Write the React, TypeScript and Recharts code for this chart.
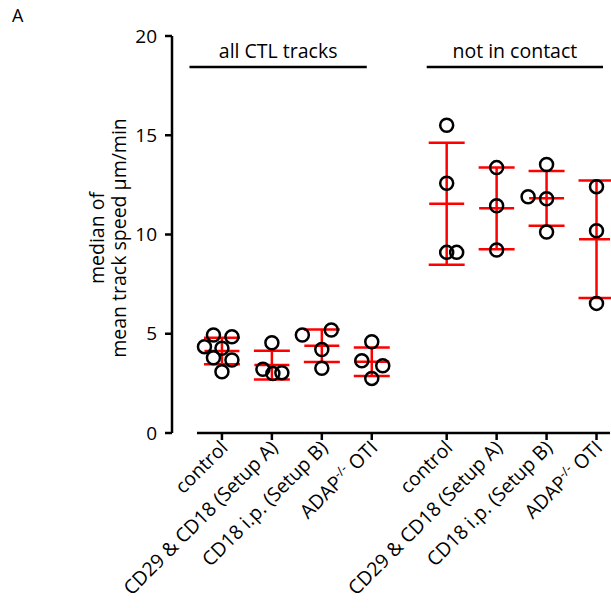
import React from "react";
import { ScatterChart, Scatter, XAxis, YAxis, ErrorBar, ReferenceLine } from "recharts";

// category x positions (gap of 1.5 between the two groups)
const catX = [0, 1, 2, 3, 4.5, 5.5, 6.5, 7.5];
const catLabels = [
  "control", "CD29 & CD18 (Setup A)", "CD18 i.p. (Setup B)", "ADAP",
  "control", "CD29 & CD18 (Setup A)", "CD18 i.p. (Setup B)", "ADAP",
];

// individual points per category: [x jitter, value]
const pts0 = [[-0.35, 4.35], [-0.17, 4.94], [0.2, 4.85], [0, 4.27], [-0.17, 3.79], [0.2, 3.68], [0, 3.09]];
const pts1 = [[0, 4.55], [-0.18, 3.21], [0.02, 3.0], [0.2, 3.04]];
const pts2 = [[-0.39, 4.94], [0.19, 5.19], [0, 4.21], [0, 3.26]];
const pts3 = [[0, 4.6], [-0.2, 3.64], [0.22, 3.39], [0, 2.75]];
const pts4 = [[0, 15.5], [0, 12.58], [0, 9.1], [0.2, 9.1]];
const pts5 = [[0, 13.37], [0, 11.45], [0, 9.22]];
const pts6 = [[0, 13.53], [-0.37, 11.9], [0, 11.8], [0, 10.13]];
const pts7 = [[0, 12.41], [0, 10.19], [0, 6.53]];
const allPts = [pts0, pts1, pts2, pts3, pts4, pts5, pts6, pts7];

const means = [4.13, 3.42, 4.4, 3.59, 11.55, 11.32, 11.82, 9.76];
const sds = [0.67, 0.72, 0.82, 0.72, 3.07, 2.06, 1.38, 2.96];

const yTicks = [0, 5, 10, 15, 20];

const pointData = allPts.flatMap((p, i) => p.map(([dx, v]) => ({ x: catX[i] + dx, y: v })));
const meanData = catX.map((x, i) => ({ x, y: means[i], sd: sds[i] }));

const FONT = "'Open Sans', sans-serif";

const MeanLine = (props: any) => {
  const { cx, cy } = props;
  return <line x1={cx - 17.5} x2={cx + 17.5} y1={cy} y2={cy} stroke="#ff0000" strokeWidth={2.5} />;
};

const Circle = (props: any) => {
  const { cx, cy } = props;
  return <circle cx={cx} cy={cy} r={6.5} fill="none" stroke="#000" strokeWidth={2.5} />;
};

const XTick = (props: any) => {
  const { x, y, payload } = props;
  const i = catX.indexOf(payload.value);
  const lbl = catLabels[i];
  return (
    <g transform={`translate(${x + 7},${y + 7})`}>
      <text textAnchor="end" transform="rotate(-45)" fontSize={19.5} fontFamily={FONT} fill="#000">
        {lbl === "ADAP" ? (
          <>
            ADAP<tspan fontSize={13} dy={-7}>-/-</tspan>
            <tspan dy={7}> OTI</tspan>
          </>
        ) : lbl}
      </text>
    </g>
  );
};

export default function App() {
  return (
    <div style={{ position: "absolute", left: 0, top: 0, width: 611, height: 608, fontFamily: FONT }}>
      <svg width={611} height={608} style={{ position: "absolute", left: 0, top: 0 }}>
        <text x={12} y={22} fontSize={18} fontFamily={FONT} fill="#000">A</text>
        <text transform="translate(104,238) rotate(-90)" textAnchor="middle" fontSize={19.5} fontFamily={FONT} fill="#000">median of</text>
        <text transform="translate(126,238) rotate(-90)" textAnchor="middle" fontSize={19.5} fontFamily={FONT} fill="#000">mean track speed µm/min</text>
      </svg>
      <div style={{ position: "absolute", left: 0, top: 0 }}>
        <ScatterChart width={611} height={608} margin={{ top: 36, right: 1, left: 0, bottom: 0 }}>
          <XAxis type="number" dataKey="x" domain={[-1, 7.77]} ticks={catX} axisLine={false}
            tickLine={{ stroke: "#000", strokeWidth: 2.5 }} tickSize={7} tick={<XTick />} height={175} interval={0} allowDataOverflow />
          <YAxis type="number" dataKey="y" domain={[0, 20]} ticks={yTicks} width={172}
            axisLine={{ stroke: "#000", strokeWidth: 2.5 }} tickLine={{ stroke: "#000", strokeWidth: 2.5 }} tickSize={7} tickMargin={8}
            tick={{ fill: "#000", fontSize: 19, fontFamily: FONT }} />
          <ReferenceLine segment={[{ x: -0.5, y: 0 }, { x: 7.77, y: 0 }]} stroke="#000" strokeWidth={2.5} ifOverflow="visible" />
          <ReferenceLine segment={[{ x: -0.65, y: 18.44 }, { x: 2.9, y: 18.44 }]} stroke="#000" strokeWidth={2.5} ifOverflow="visible"
            label={{ value: "all CTL tracks", position: "top", offset: 9, fill: "#000", fontSize: 19.5, fontFamily: FONT }} />
          <ReferenceLine segment={[{ x: 4.1, y: 18.44 }, { x: 7.63, y: 18.44 }]} stroke="#000" strokeWidth={2.5} ifOverflow="visible"
            label={{ value: "not in contact", position: "top", offset: 9, fill: "#000", fontSize: 19.5, fontFamily: FONT }} />
          <Scatter data={meanData} shape={<MeanLine />} isAnimationActive={false}>
            <ErrorBar dataKey="sd" direction="y" width={18} stroke="#ff0000" strokeWidth={2.5} isAnimationActive={false} />
          </Scatter>
          <Scatter data={pointData} shape={<Circle />} isAnimationActive={false} />
        </ScatterChart>
      </div>
    </div>
  );
}
